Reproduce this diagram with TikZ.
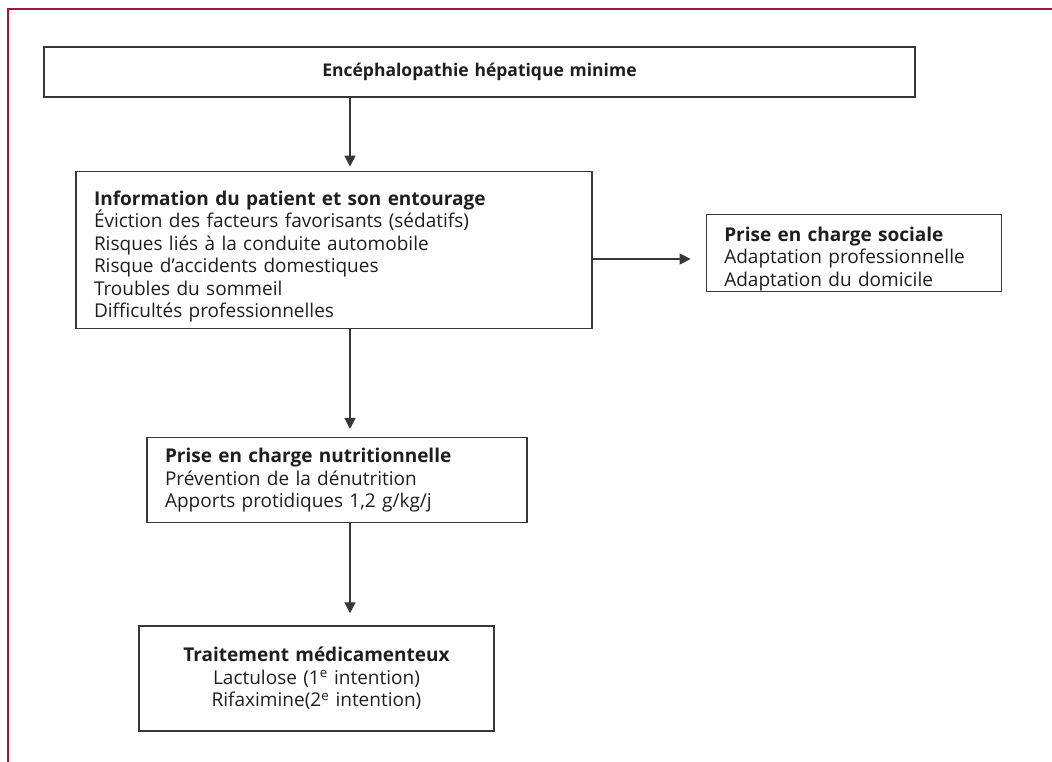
\documentclass[tikz,border=0pt]{standalone}
\usepackage{fontspec}
\setmainfont{Open Sans}
\usetikzlibrary{positioning,arrows.meta}
\definecolor{framered}{RGB}{163,20,60}
\definecolor{boxline}{RGB}{55,55,55}
\definecolor{inktext}{RGB}{30,30,30}
\newcommand{\boxtitle}[1]{\textbf{#1}}
\newcommand{\lowerby}[1]{\rule{0pt}{#1}}

\begin{document}
\begin{tikzpicture}[
    x=1pt, y=1pt,
    font=\fontsize{19}{22.5}\selectfont,
    box/.style={rectangle, draw=boxline, line width=1.3pt, inner xsep=18pt, inner ysep=0pt, align=left, text=inktext},
    arrow/.style={-{Triangle[length=11pt,width=11pt]}, line width=1.2pt, draw=boxline},
]
\useasboundingbox (0,0) rectangle (1052,-762);

% Frame
\draw[framered, line width=2pt] (8,-762) -- (8,-9) -- (1052,-9);

% Nodes
\node [box, align=center, text width=835pt, minimum height=50pt, font=\fontsize{17.5}{21}\selectfont] (top) at (479.5,-72) {\boxtitle{Encéphalopathie hépatique minime}};
\node [box, text width=480pt, minimum height=157pt, below right=73pt and 32pt of top.south west] (info) {\lowerby{28pt}\boxtitle{Information du patient et son entourage}\\
Éviction des facteurs favorisants (sédatifs)\\
Risques liés à la conduite automobile\\
Risque d’accidents domestiques\\
Troubles du sommeil\\
Difficultés professionnelles};
\node [box, text width=259pt, minimum height=77pt, below right=43pt and 113pt of info.north east] (social) {\lowerby{26pt}\boxtitle{Prise en charge sociale}\\
Adaptation professionnelle\\
Adaptation du domicile};
\node [box, text width=344pt, minimum height=85pt, below right=108pt and 71pt of info.south west] (nutri) {\boxtitle{Prise en charge nutritionnelle}\\
Prévention de la dénutrition\\
Apports protidiques 1,2 g/kg/j};
\node [box, align=center, text width=319pt, minimum height=105pt, below right=102pt and -8pt of nutri.south west] (treat) {\boxtitle{Traitement médicamenteux}\\
Lactulose (1\textsuperscript{e} intention)\\
Rifaximine(2\textsuperscript{e} intention)};

% Arrows
\coordinate (spine) at (350,-259);
\draw [arrow, shorten >=4pt] (top.south -| spine) -- (info.north -| spine);
\draw [arrow, shorten >=15pt] (info.east |- spine) -- (social.west |- spine);
\draw [arrow, shorten >=8pt] (info.south -| spine) -- (nutri.north -| spine);
\draw [arrow, shorten >=12pt] (nutri.south -| spine) -- (treat.north -| spine);

\end{tikzpicture}
\end{document}
